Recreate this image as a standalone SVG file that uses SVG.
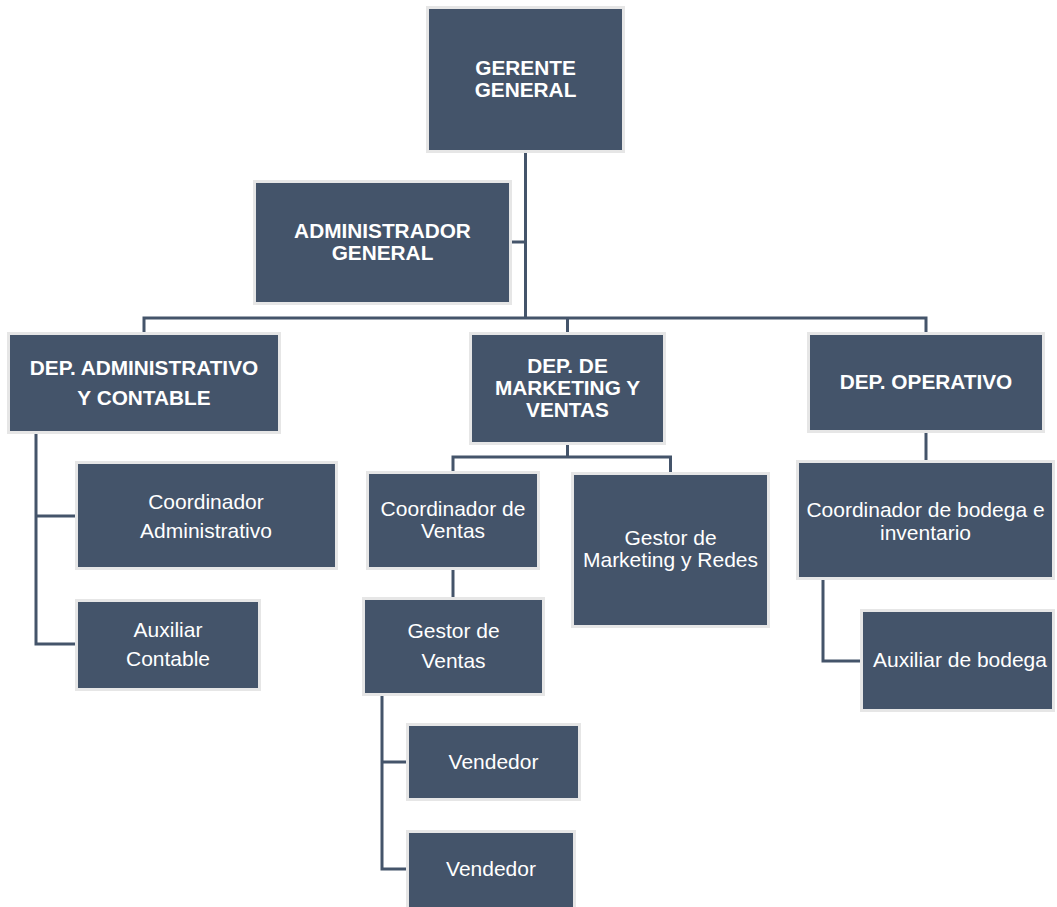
<svg xmlns="http://www.w3.org/2000/svg" width="1057" height="907" viewBox="0 0 1057 907">
  <style>
    .box { fill: #44546a; stroke: #e6e6e6; stroke-width: 3; }
    .lbl { fill: #ffffff; font-family: "Liberation Sans", Arial, sans-serif; text-anchor: middle; }
    .b { font-weight: bold; font-size: 20.8px; }
    .r { font-size: 21px; }
    .wire { fill: none; stroke: #44546a; stroke-width: 3; }
  </style>
  <rect width="1057" height="907" fill="#ffffff"/>

  <!-- connectors -->
  <g id="connectors" class="wire">
    <path d="M525.5 150 V318"/>
    <path d="M509 242 H525.5"/>
    <path d="M144 335 V318 H926 V335"/>
    <path d="M567.5 318 V335"/>
    <path d="M36 431 V644 H78 M36 516 H78"/>
    <path d="M567.5 442 V457 M453 474 V457 H670.5 V475"/>
    <path d="M453 567 V600"/>
    <path d="M382 693 V869 H409 M382 762 H409"/>
    <path d="M926 430 V463"/>
    <path d="M823 577 V661 H863"/>
  </g>

  <!-- nodes: rectangles are offset 1.5px so the light border sits outside the fill -->
  <g id="gerente-general">
    <rect class="box" x="427.5" y="7.5" width="196" height="144"/>
    <text class="lbl b" x="525.5" y="75">GERENTE<tspan x="525.5" y="97">GENERAL</tspan></text>
  </g>
  <g id="administrador-general">
    <rect class="box" x="254.5" y="181.5" width="256" height="122"/>
    <text class="lbl b" x="382.5" y="238">ADMINISTRADOR<tspan x="382.5" y="260">GENERAL</tspan></text>
  </g>
  <g id="dep-administrativo">
    <rect class="box" x="8.5" y="333.5" width="271" height="99"/>
    <text class="lbl b" x="144" y="375">DEP. ADMINISTRATIVO<tspan x="144" y="405">Y CONTABLE</tspan></text>
  </g>
  <g id="dep-marketing">
    <rect class="box" x="470.5" y="333.5" width="194" height="110"/>
    <text class="lbl b" x="567.5" y="373">DEP. DE<tspan x="567.5" y="395">MARKETING Y</tspan><tspan x="567.5" y="417">VENTAS</tspan></text>
  </g>
  <g id="dep-operativo">
    <rect class="box" x="808.5" y="333.5" width="235" height="98"/>
    <text class="lbl b" x="926" y="389">DEP. OPERATIVO</text>
  </g>
  <g id="coordinador-administrativo">
    <rect class="box" x="76.5" y="462.5" width="260" height="106"/>
    <text class="lbl r" x="206" y="509">Coordinador<tspan x="206" y="538">Administrativo</tspan></text>
  </g>
  <g id="auxiliar-contable">
    <rect class="box" x="76.5" y="600.5" width="183" height="89"/>
    <text class="lbl r" x="168" y="637">Auxiliar<tspan x="168" y="666">Contable</tspan></text>
  </g>
  <g id="coordinador-ventas">
    <rect class="box" x="367.5" y="472.5" width="171" height="96"/>
    <text class="lbl r" x="453" y="516">Coordinador de<tspan x="453" y="538">Ventas</tspan></text>
  </g>
  <g id="gestor-marketing">
    <rect class="box" x="572.5" y="473.5" width="196" height="153"/>
    <text class="lbl r" x="670.5" y="545">Gestor de<tspan x="670.5" y="567">Marketing y Redes</tspan></text>
  </g>
  <g id="gestor-ventas">
    <rect class="box" x="363.5" y="598.5" width="180" height="96"/>
    <text class="lbl r" x="453.5" y="638">Gestor de<tspan x="453.5" y="668">Ventas</tspan></text>
  </g>
  <g id="vendedor-1">
    <rect class="box" x="407.5" y="724.5" width="172" height="75"/>
    <text class="lbl r" x="493.5" y="769">Vendedor</text>
  </g>
  <g id="vendedor-2">
    <rect class="box" x="407.5" y="831.5" width="167" height="83"/>
    <text class="lbl r" x="491" y="876">Vendedor</text>
  </g>
  <g id="coordinador-bodega">
    <rect class="box" x="797.5" y="461.5" width="256" height="117"/>
    <text class="lbl r" x="925.5" y="517">Coordinador de bodega e<tspan x="925.5" y="540">inventario</tspan></text>
  </g>
  <g id="auxiliar-bodega">
    <rect class="box" x="861.5" y="610.5" width="192" height="100"/>
    <text class="lbl r" x="960" y="667">Auxiliar de bodega</text>
  </g>
</svg>
